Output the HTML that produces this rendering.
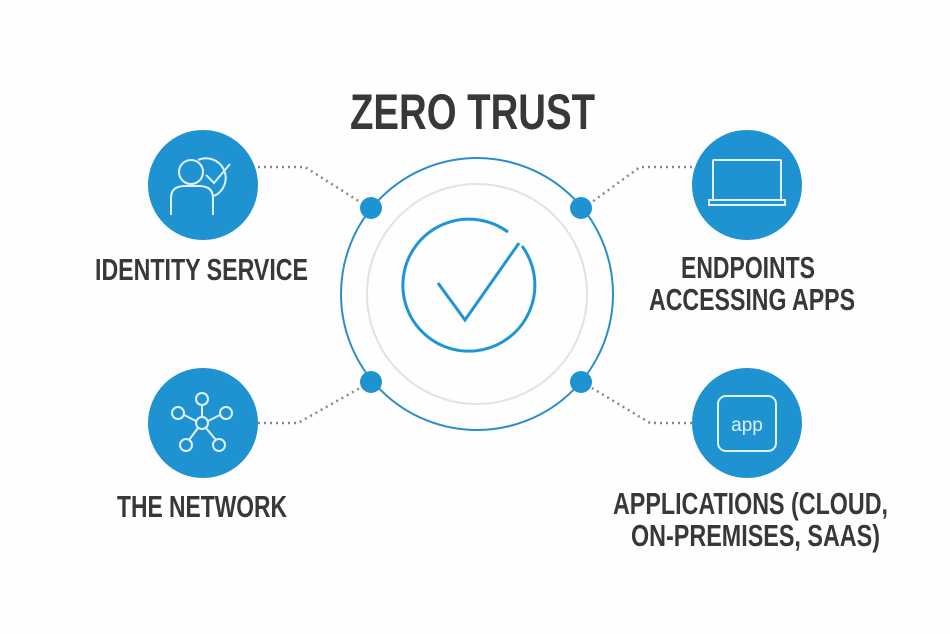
<!DOCTYPE html>
<html><head><style>html,body{margin:0;padding:0;background:#fff;}svg{display:block}</style></head>
<body>
<svg width="950" height="634" viewBox="0 0 950 634" xmlns="http://www.w3.org/2000/svg">
<rect width="950" height="634" fill="#fefefe"/>
<g font-family="Liberation Sans, sans-serif" font-weight="bold" fill="#383838">
<text x="350" y="129" font-size="50" textLength="245" lengthAdjust="spacingAndGlyphs">ZERO TRUST</text>
<text x="95" y="280" font-size="31" textLength="213" lengthAdjust="spacingAndGlyphs">IDENTITY SERVICE</text>
<text x="117" y="517" font-size="31" textLength="170" lengthAdjust="spacingAndGlyphs">THE NETWORK</text>
<text x="681" y="278" font-size="31" textLength="134" lengthAdjust="spacingAndGlyphs">ENDPOINTS</text>
<text x="649" y="310" font-size="31" textLength="206" lengthAdjust="spacingAndGlyphs">ACCESSING APPS</text>
<text x="613" y="514" font-size="31" textLength="275" lengthAdjust="spacingAndGlyphs">APPLICATIONS (CLOUD,</text>
<text x="631" y="546" font-size="31" textLength="249" lengthAdjust="spacingAndGlyphs">ON-PREMISES, SAAS)</text>
</g>
<g fill="none" stroke="#888" stroke-width="2.5" stroke-dasharray="2 4">
<path d="M258 167 H305 L360 202"/>
<path d="M258 423 H298 L360 388"/>
<path d="M692 167 H640 L592 202"/>
<path d="M692 423 H650 L592 388"/>
</g>
<circle cx="477" cy="294" r="136" fill="none" stroke="#2a8fc8" stroke-width="2"/>
<circle cx="477" cy="294" r="110" fill="none" stroke="#e2e2e2" stroke-width="2"/>
<path d="M508 232 A66 66 0 1 0 522 246" fill="none" stroke="#1f96d4" stroke-width="3"/>
<path d="M438 283 L465 320 L519 243" fill="none" stroke="#1f96d4" stroke-width="3"/>
<g fill="#1f93d2">
<circle cx="371" cy="208" r="11"/><circle cx="581" cy="208" r="11"/>
<circle cx="371" cy="382" r="11"/><circle cx="581" cy="382" r="11"/>
<circle cx="203" cy="185" r="55"/><circle cx="747" cy="185" r="55"/>
<circle cx="203" cy="423" r="55"/><circle cx="747" cy="423" r="55"/>
</g>
<g fill="none" stroke="#dff2fc" stroke-width="2">
<circle cx="191" cy="172" r="12"/>
<path d="M171 215 V198 Q171 186 185 186 H199 Q213 186 213 198 V215"/>
<path d="M198 160 A19 19 0 1 1 214 196"/>
<path d="M206 175 L214 183 L230 164"/>
<rect x="713" y="160" width="68" height="40" rx="1"/>
<path d="M709 200 H785 V205 H709 Z"/>
<circle cx="202" cy="423" r="6"/>
<circle cx="202" cy="399" r="6"/><circle cx="178" cy="413" r="6"/><circle cx="226" cy="413" r="6"/>
<circle cx="186" cy="445" r="6"/><circle cx="219" cy="445" r="6"/>
<path d="M202 405 V417 M184 415 L196 421 M220 415 L208 421 M189 440 L198 428 M216 440 L206 428"/>
<rect x="718" y="396" width="58" height="55" rx="8"/>
</g>
<text x="747" y="431" font-family="Liberation Sans, sans-serif" font-size="19" fill="#dff2fc" text-anchor="middle">app</text>
</svg>
</body></html>
